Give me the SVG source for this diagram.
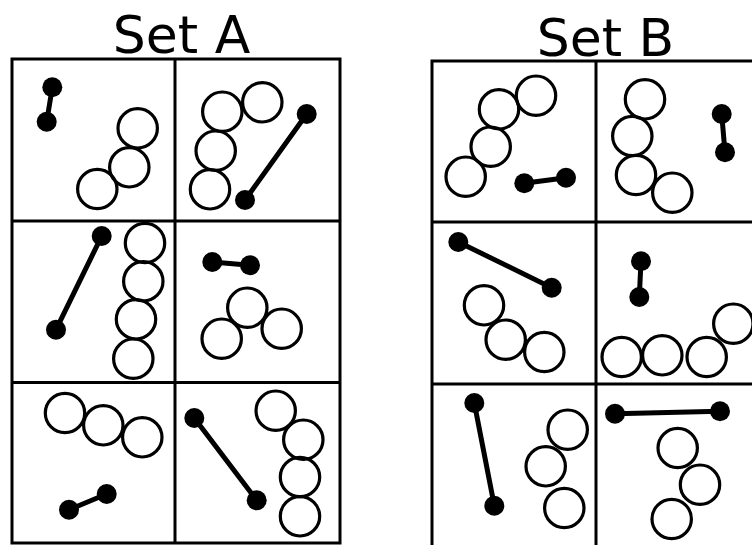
<svg xmlns="http://www.w3.org/2000/svg" width="752" height="545" viewBox="0 0 752 545">
<style>
.bg{fill:#fff}
.title{font-family:"DejaVu Sans",sans-serif;font-size:52px;fill:#000;text-anchor:middle}
.grid{fill:none;stroke:#000;stroke-width:3}
.ring{fill:none;stroke:#000;stroke-width:3.2}
.dot{fill:#000}
.bar{stroke:#000;stroke-width:5;stroke-linecap:round}
</style>
<rect class="bg" x="0" y="0" width="752" height="545"/>
<text class="title" x="181.5" y="52.5">Set A</text>
<text class="title" x="605.5" y="56">Set B</text>

<g id="gridA">
<rect class="grid" x="12" y="59" width="328" height="484"/>
<line class="grid" x1="175" y1="59" x2="175" y2="543"/>
<line class="grid" x1="12" y1="221" x2="340" y2="221"/>
<line class="grid" x1="12" y1="382.5" x2="340" y2="382.5"/>
</g>
<g id="gridB">
<rect class="grid" x="432" y="61" width="330" height="486"/>
<line class="grid" x1="596" y1="61" x2="596" y2="547"/>
<line class="grid" x1="432" y1="222" x2="762" y2="222"/>
<line class="grid" x1="432" y1="384" x2="762" y2="384"/>
</g>

<g id="A1">
<line class="bar" x1="52.3" y1="87.3" x2="46.7" y2="121.7"/>
<circle class="dot" cx="52.3" cy="87.3" r="10"/>
<circle class="dot" cx="46.7" cy="121.7" r="10"/>
<circle class="ring" cx="137.7" cy="128.3" r="19.7"/>
<circle class="ring" cx="129.3" cy="167.3" r="19.7"/>
<circle class="ring" cx="97.3" cy="189" r="19.7"/>
</g>
<g id="A2">
<circle class="ring" cx="222.3" cy="111.7" r="19.7"/>
<circle class="ring" cx="262.3" cy="102.3" r="19.7"/>
<circle class="ring" cx="215.7" cy="150.7" r="19.7"/>
<circle class="ring" cx="210" cy="189.3" r="19.7"/>
<line class="bar" x1="306.7" y1="114" x2="245" y2="200"/>
<circle class="dot" cx="306.7" cy="114" r="10"/>
<circle class="dot" cx="245" cy="200" r="10"/>
</g>
<g id="A3">
<line class="bar" x1="101.7" y1="236" x2="56" y2="329.7"/>
<circle class="dot" cx="101.7" cy="236" r="10"/>
<circle class="dot" cx="56" cy="329.7" r="10"/>
<circle class="ring" cx="145" cy="243" r="19.7"/>
<circle class="ring" cx="143.3" cy="281.3" r="19.7"/>
<circle class="ring" cx="136" cy="319.3" r="19.7"/>
<circle class="ring" cx="133.3" cy="358.7" r="19.7"/>
</g>
<g id="A4">
<line class="bar" x1="212.3" y1="262" x2="250" y2="265.3"/>
<circle class="dot" cx="212.3" cy="262" r="10"/>
<circle class="dot" cx="250" cy="265.3" r="10"/>
<circle class="ring" cx="247.3" cy="307.7" r="19.7"/>
<circle class="ring" cx="221.7" cy="338.7" r="19.7"/>
<circle class="ring" cx="281.7" cy="328.7" r="19.7"/>
</g>
<g id="A5">
<circle class="ring" cx="65" cy="413" r="19.7"/>
<circle class="ring" cx="103.3" cy="425.3" r="19.7"/>
<circle class="ring" cx="142.3" cy="437.3" r="19.7"/>
<line class="bar" x1="69" y1="509.7" x2="106.7" y2="494"/>
<circle class="dot" cx="69" cy="509.7" r="10"/>
<circle class="dot" cx="106.7" cy="494" r="10"/>
</g>
<g id="A6">
<line class="bar" x1="194.3" y1="418" x2="256.7" y2="500.3"/>
<circle class="dot" cx="194.3" cy="418" r="10"/>
<circle class="dot" cx="256.7" cy="500.3" r="10"/>
<circle class="ring" cx="275.7" cy="410.7" r="19.7"/>
<circle class="ring" cx="303.3" cy="439.7" r="19.7"/>
<circle class="ring" cx="300" cy="477" r="19.7"/>
<circle class="ring" cx="300" cy="516.3" r="19.7"/>
</g>

<g id="B1">
<circle class="ring" cx="536" cy="95.7" r="19.7"/>
<circle class="ring" cx="499" cy="109.3" r="19.7"/>
<circle class="ring" cx="490.7" cy="146.7" r="19.7"/>
<circle class="ring" cx="465.7" cy="176.7" r="19.7"/>
<line class="bar" x1="524.3" y1="183.3" x2="566" y2="177.7"/>
<circle class="dot" cx="524.3" cy="183.3" r="10"/>
<circle class="dot" cx="566" cy="177.7" r="10"/>
</g>
<g id="B2">
<circle class="ring" cx="645" cy="99.3" r="19.7"/>
<circle class="ring" cx="632.3" cy="136" r="19.7"/>
<circle class="ring" cx="636" cy="175" r="19.7"/>
<circle class="ring" cx="672.3" cy="192.7" r="19.7"/>
<line class="bar" x1="721.7" y1="114" x2="725" y2="152.3"/>
<circle class="dot" cx="721.7" cy="114" r="10"/>
<circle class="dot" cx="725" cy="152.3" r="10"/>
</g>
<g id="B3">
<line class="bar" x1="458.3" y1="242" x2="551.7" y2="287.7"/>
<circle class="dot" cx="458.3" cy="242" r="10"/>
<circle class="dot" cx="551.7" cy="287.7" r="10"/>
<circle class="ring" cx="484" cy="305.3" r="19.7"/>
<circle class="ring" cx="505.7" cy="339.7" r="19.7"/>
<circle class="ring" cx="544.3" cy="352" r="19.7"/>
</g>
<g id="B4">
<line class="bar" x1="641" y1="261.3" x2="639.3" y2="297"/>
<circle class="dot" cx="641" cy="261.3" r="10"/>
<circle class="dot" cx="639.3" cy="297" r="10"/>
<circle class="ring" cx="621.7" cy="357" r="19.7"/>
<circle class="ring" cx="662.3" cy="355.3" r="19.7"/>
<circle class="ring" cx="706.7" cy="357" r="19.7"/>
<circle class="ring" cx="733.3" cy="323.7" r="19.7"/>
</g>
<g id="B5">
<line class="bar" x1="474.3" y1="403" x2="494.3" y2="505.7"/>
<circle class="dot" cx="474.3" cy="403" r="10"/>
<circle class="dot" cx="494.3" cy="505.7" r="10"/>
<circle class="ring" cx="567.7" cy="429.7" r="19.7"/>
<circle class="ring" cx="545.7" cy="466.3" r="19.7"/>
<circle class="ring" cx="564.3" cy="508" r="19.7"/>
</g>
<g id="B6">
<line class="bar" x1="615" y1="413.7" x2="720" y2="411.3"/>
<circle class="dot" cx="615" cy="413.7" r="10"/>
<circle class="dot" cx="720" cy="411.3" r="10"/>
<circle class="ring" cx="677.7" cy="448" r="19.7"/>
<circle class="ring" cx="700" cy="484.7" r="19.7"/>
<circle class="ring" cx="671.7" cy="519" r="19.7"/>
</g>
</svg>
